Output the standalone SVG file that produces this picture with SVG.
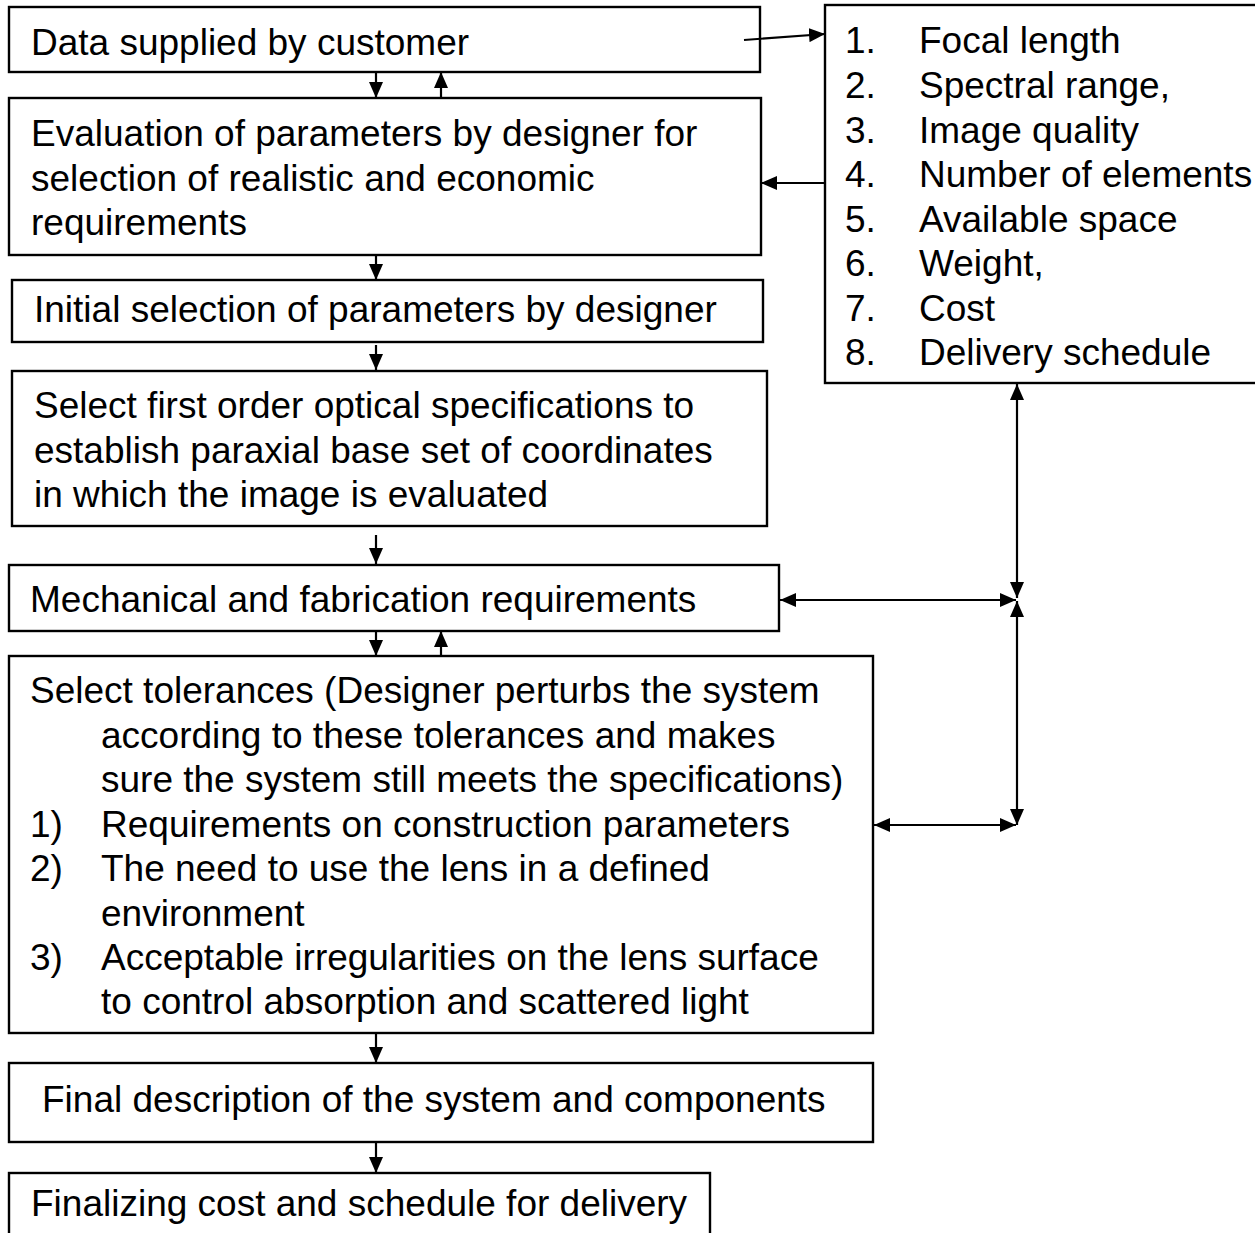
<svg xmlns="http://www.w3.org/2000/svg" width="1255" height="1233" viewBox="0 0 1255 1233">
<defs>
<style>
.box{fill:#fff;stroke:#000;stroke-width:2.4}
.t{font-family:"Liberation Sans",Arial,sans-serif;font-size:37px;fill:#000}
.c{stroke:#000;stroke-width:2.2;fill:none}
</style>
<marker id="ah" viewBox="0 0 16 14" refX="16" refY="7" markerWidth="16" markerHeight="14" markerUnits="userSpaceOnUse" orient="auto-start-reverse">
<path d="M0,0 L16,7 L0,14 z" fill="#000"/>
</marker>
</defs>
<rect width="1255" height="1233" fill="#fff"/>

<g id="n1">
<rect class="box" x="9" y="7" width="751" height="65"/>
<text class="t" x="31" y="55">Data supplied by customer</text>
</g>
<g id="n-list">
<rect class="box" x="825" y="5" width="480" height="378"/>
<text class="t" x="845" y="53">1.</text><text class="t" x="919" y="53">Focal length</text>
<text class="t" x="845" y="98">2.</text><text class="t" x="919" y="98">Spectral range,</text>
<text class="t" x="845" y="143">3.</text><text class="t" x="919" y="143">Image quality</text>
<text class="t" x="845" y="187">4.</text><text class="t" x="919" y="187">Number of elements</text>
<text class="t" x="845" y="232">5.</text><text class="t" x="919" y="232">Available space</text>
<text class="t" x="845" y="276">6.</text><text class="t" x="919" y="276">Weight,</text>
<text class="t" x="845" y="321">7.</text><text class="t" x="919" y="321">Cost</text>
<text class="t" x="845" y="365">8.</text><text class="t" x="919" y="365">Delivery schedule</text>
</g>
<g id="n2">
<rect class="box" x="9" y="98" width="752" height="157"/>
<text class="t" x="31" y="146">Evaluation of parameters by designer for</text>
<text class="t" x="31" y="191">selection of realistic and economic</text>
<text class="t" x="31" y="235">requirements</text>
</g>
<g id="n3">
<rect class="box" x="12" y="280" width="751" height="62"/>
<text class="t" x="34" y="322">Initial selection of parameters by designer</text>
</g>
<g id="n4">
<rect class="box" x="12" y="371" width="755" height="155"/>
<text class="t" x="34" y="418">Select first order optical specifications to</text>
<text class="t" x="34" y="463">establish paraxial base set of coordinates</text>
<text class="t" x="34" y="507">in which the image is evaluated</text>
</g>
<g id="n5">
<rect class="box" x="9" y="565" width="770" height="66"/>
<text class="t" x="30" y="612">Mechanical and fabrication requirements</text>
</g>
<g id="n6">
<rect class="box" x="9" y="656" width="864" height="377"/>
<text class="t" x="30" y="703">Select tolerances (Designer perturbs the system</text>
<text class="t" x="101" y="748">according to these tolerances and makes</text>
<text class="t" x="101" y="792">sure the system still meets the specifications)</text>
<text class="t" x="30" y="837">1)</text><text class="t" x="101" y="837">Requirements on construction parameters</text>
<text class="t" x="30" y="881">2)</text><text class="t" x="101" y="881">The need to use the lens in a defined</text>
<text class="t" x="101" y="926">environment</text>
<text class="t" x="30" y="970">3)</text><text class="t" x="101" y="970">Acceptable irregularities on the lens surface</text>
<text class="t" x="101" y="1014">to control absorption and scattered light</text>
</g>
<g id="n7">
<rect class="box" x="9" y="1063" width="864" height="79"/>
<text class="t" x="42" y="1112">Final description of the system and components</text>
</g>
<g id="n8">
<rect class="box" x="9" y="1173" width="701" height="80"/>
<text class="t" x="31" y="1216">Finalizing cost and schedule for delivery</text>
</g>

<g id="connectors">
<line class="c" x1="376" y1="72" x2="376" y2="98" marker-end="url(#ah)"/>
<line class="c" x1="441" y1="98" x2="441" y2="72" marker-end="url(#ah)"/>
<line class="c" x1="744" y1="40" x2="825" y2="34" marker-end="url(#ah)"/>
<line class="c" x1="825" y1="183" x2="761" y2="183" marker-end="url(#ah)"/>
<line class="c" x1="376" y1="255" x2="376" y2="280" marker-end="url(#ah)"/>
<line class="c" x1="376" y1="345" x2="376" y2="370" marker-end="url(#ah)"/>
<line class="c" x1="376" y1="535" x2="376" y2="564" marker-end="url(#ah)"/>
<line class="c" x1="376" y1="631" x2="376" y2="656" marker-end="url(#ah)"/>
<line class="c" x1="441" y1="656" x2="441" y2="631" marker-end="url(#ah)"/>
<line class="c" x1="780" y1="600" x2="1016" y2="600" marker-start="url(#ah)" marker-end="url(#ah)"/>
<line class="c" x1="1017" y1="384" x2="1017" y2="598" marker-start="url(#ah)" marker-end="url(#ah)"/>
<line class="c" x1="1017" y1="601" x2="1017" y2="825" marker-start="url(#ah)" marker-end="url(#ah)"/>
<line class="c" x1="874" y1="825" x2="1016" y2="825" marker-start="url(#ah)" marker-end="url(#ah)"/>
<line class="c" x1="376" y1="1033" x2="376" y2="1063" marker-end="url(#ah)"/>
<line class="c" x1="376" y1="1142" x2="376" y2="1173" marker-end="url(#ah)"/>
</g>
</svg>
